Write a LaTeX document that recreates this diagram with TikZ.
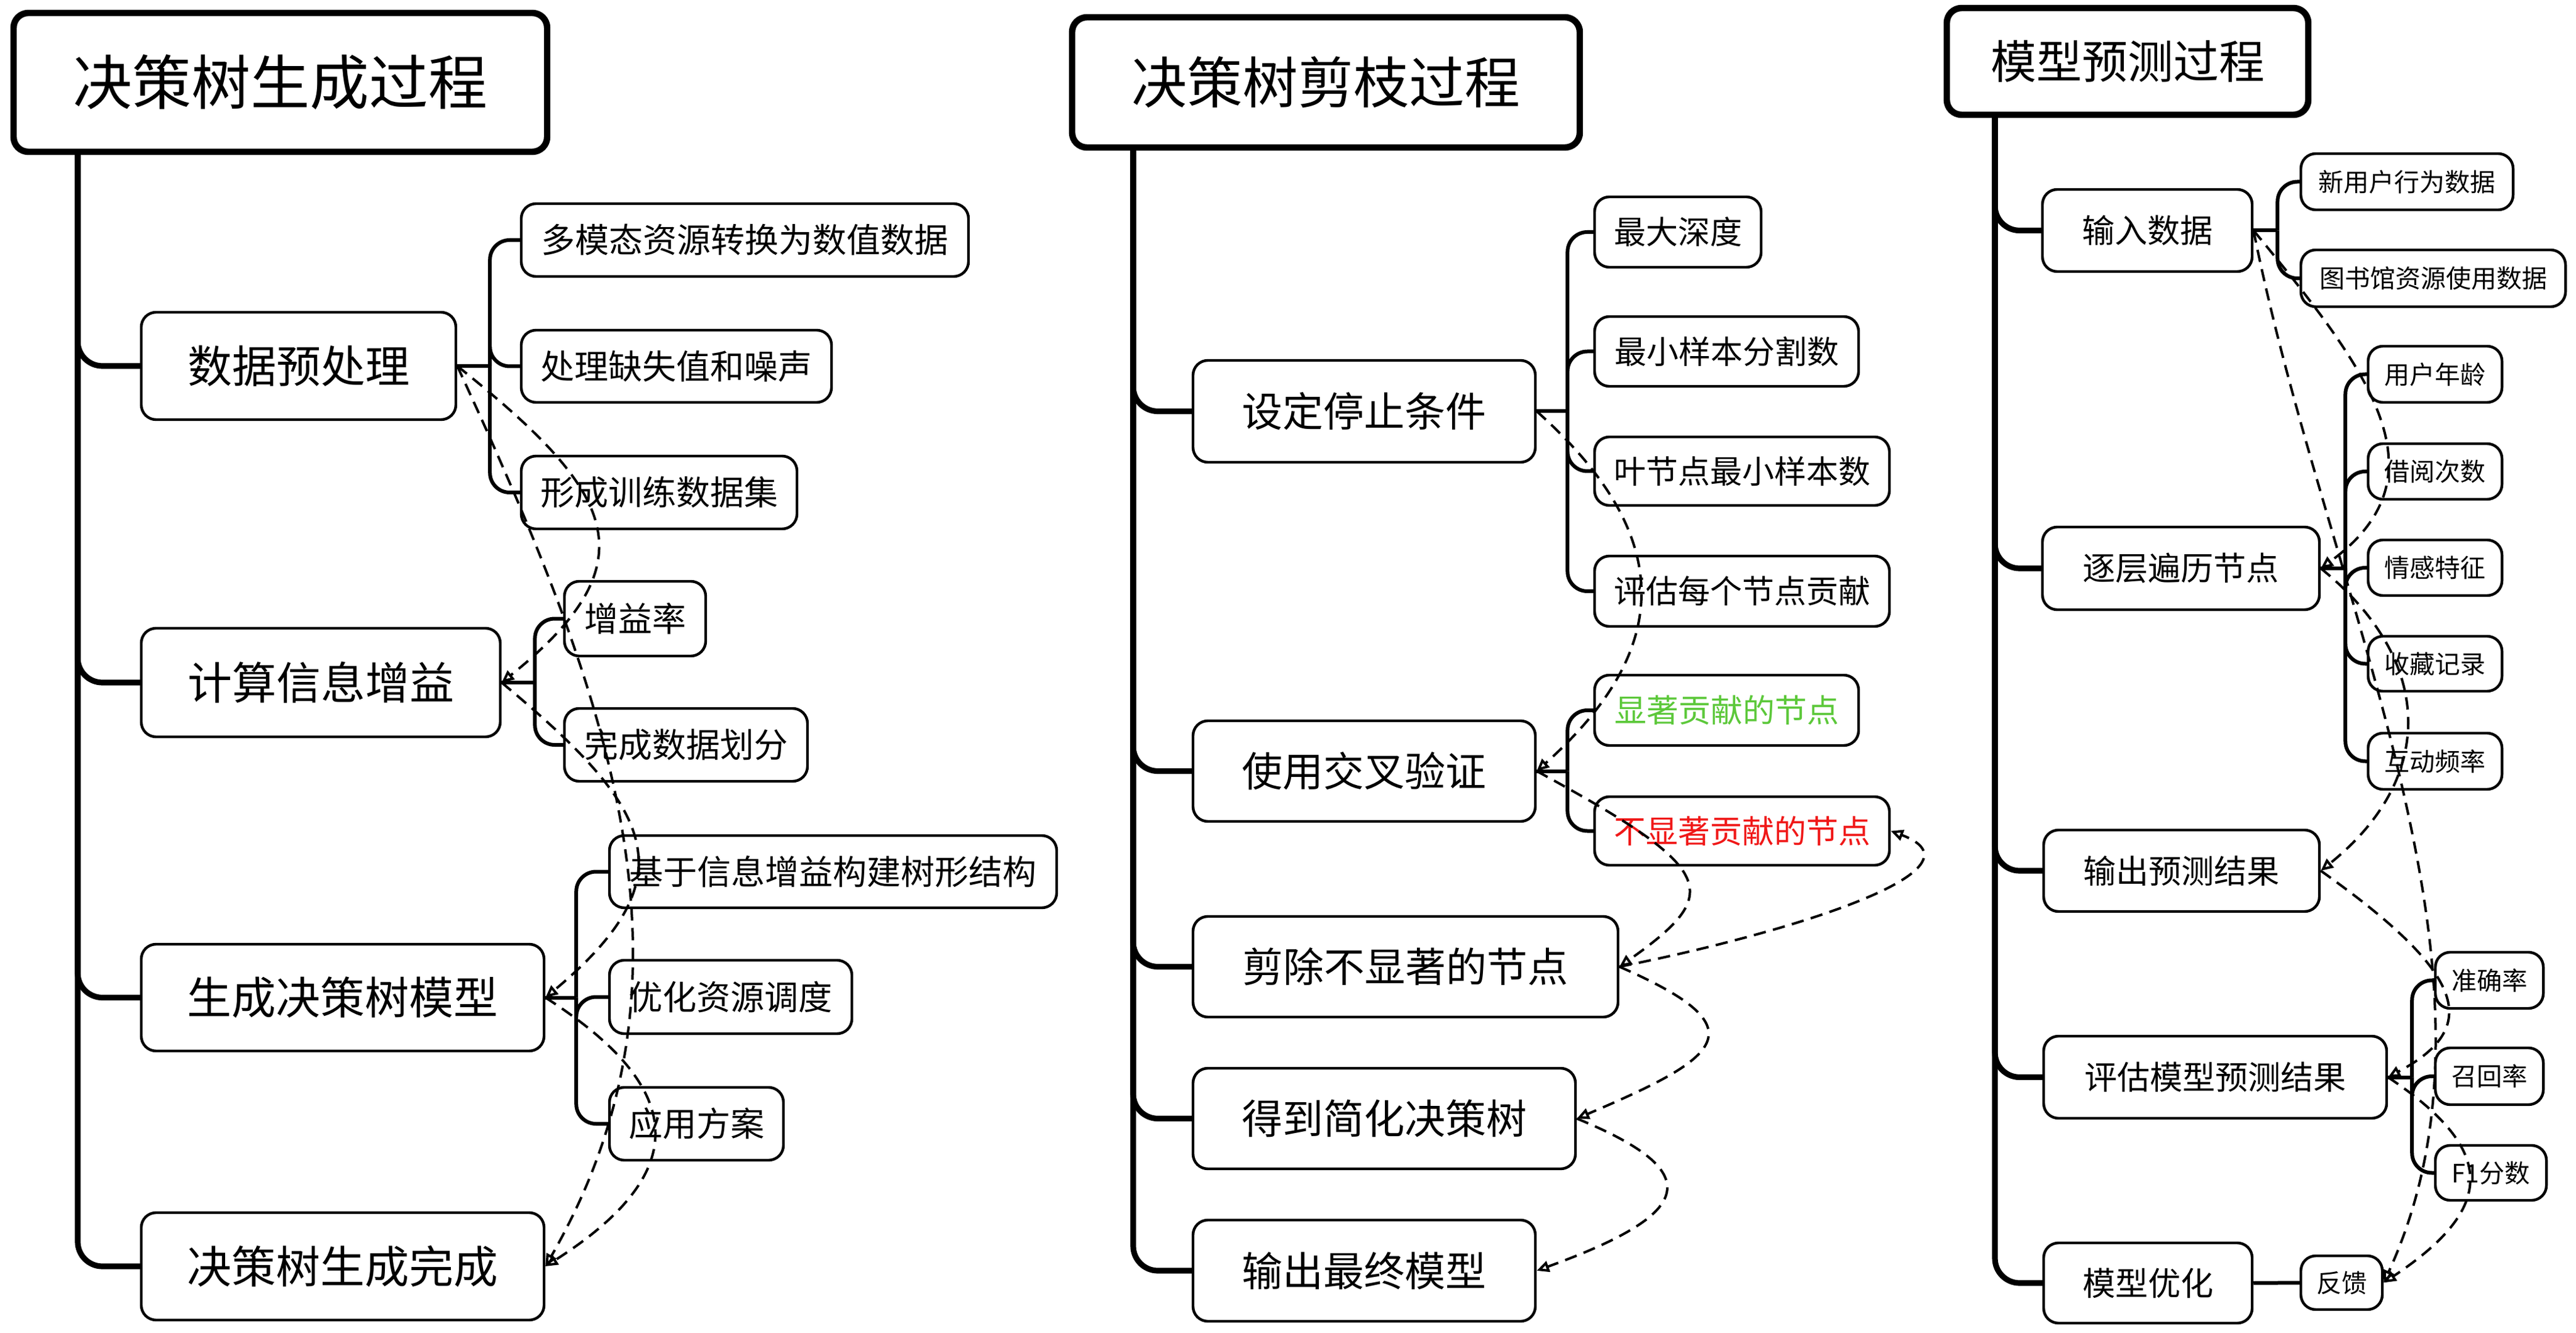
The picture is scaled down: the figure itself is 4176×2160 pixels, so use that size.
\documentclass[tikz,border=0pt]{standalone}
\usepackage{fontspec}
\setmainfont{Noto Sans CJK SC}
\usetikzlibrary{arrows.meta}
\definecolor{sigGreen}{HTML}{5CC83A}
\definecolor{nsRed}{HTML}{F01818}
\tikzset{
  box/.style={draw=black, fill=white, rounded corners=6pt, line width=1.1pt, inner sep=0pt, align=center},
  ttl/.style={box, line width=2.6pt},
  trunk/.style={line width=2.3pt, rounded corners=10pt},
  sub/.style={line width=1.5pt, rounded corners=8pt},
  flow/.style={line width=1pt, dash pattern=on 5pt off 3pt, -{Triangle[open,length=5pt,width=4.5pt]}},
}
\newcommand\mybox[7][]{\node[box,#1,minimum width={(#5-#3)*0.25pt},minimum height={(#6-#4)*0.25pt}] (#2) at ({(#3+#5)/2},{(#4+#6)/2}) {#7};}
\newcommand\fs[1]{\fontsize{#1pt}{#1pt}\selectfont}
\begin{document}
\begin{tikzpicture}[x=0.25pt,y=-0.25pt]
\useasboundingbox (0,0) rectangle (4176,2160);
% ---------------- left column ----------------
\mybox[ttl,font=\fs{24}]{T1}{22}{21}{887}{246}{决策树生成过程}
\mybox[font=\fs{18}]{A1}{229}{506}{739}{680}{数据预处理}
\mybox[font=\fs{13.75}]{A1a}{845}{330}{1570}{448}{多模态资源转换为数值数据}
\mybox[font=\fs{13.75}]{A1b}{845}{535}{1348}{652}{处理缺失值和噪声}
\mybox[font=\fs{13.75}]{A1c}{845}{739}{1292}{857}{形成训练数据集}
\mybox[font=\fs{18}]{A2}{229}{1018}{811}{1194}{计算信息增益}
\mybox[font=\fs{13.75}]{A2a}{915}{942}{1144}{1063}{增益率}
\mybox[font=\fs{13.75}]{A2b}{915}{1148}{1309}{1266}{完成数据划分}
\mybox[font=\fs{18}]{A3}{229}{1530}{882}{1703}{生成决策树模型}
\mybox[font=\fs{13.75}]{A3a}{988}{1354}{1713}{1471}{基于信息增益构建树形结构}
\mybox[font=\fs{13.75}]{A3b}{988}{1556}{1381}{1675}{优化资源调度}
\mybox[font=\fs{13.75}]{A3c}{988}{1762}{1270}{1880}{应用方案}
\mybox[font=\fs{18}]{A4}{229}{1965}{882}{2139}{决策树生成完成}
\coordinate (L0) at (126,246);
\draw[trunk] (L0) |- (A1.west);
\draw[trunk] (L0) |- (A2.west);
\draw[trunk] (L0) |- (A3.west);
\draw[trunk] (L0) |- (A4.west);
\draw[sub] (A1.east) -- ++(53,0) coordinate (A1s);
\draw[sub] (A1s) |- (A1a.west);
\draw[sub] (A1s) |- (A1b.west);
\draw[sub] (A1s) |- (A1c.west);
\draw[sub] (A2.east) -- ++(54,0) coordinate (A2s);
\draw[sub] (A2s) |- (A2a.west);
\draw[sub] (A2s) |- (A2b.west);
\draw[sub] (A3.east) -- ++(50,0) coordinate (A3s);
\draw[sub] (A3s) |- (A3a.west);
\draw[sub] (A3s) |- (A3b.west);
\draw[sub] (A3s) |- (A3c.west);
\draw[flow] (A1.east) .. controls +(250,200) and +(250,-200) .. (A2.east);
\draw[flow] (A1.east) .. controls +(250,540) and +(270,-470) .. (A4.east);
\draw[flow] (A2.east) .. controls +(240,200) and +(240,-200) .. (A3.east);
\draw[flow] (A3.east) .. controls +(235,150) and +(235,-150) .. (A4.east);
% ---------------- middle column ----------------
\mybox[ttl,font=\fs{22.5}]{T2}{1738}{28}{2561}{239}{决策树剪枝过程}
\mybox[font=\fs{16.5}]{B1}{1934}{584}{2489}{749}{设定停止条件}
\mybox[font=\fs{13}]{B1a}{2585}{319}{2855}{433}{最大深度}
\mybox[font=\fs{13}]{B1b}{2585}{513}{3013}{626}{最小样本分割数}
\mybox[font=\fs{13}]{B1c}{2585}{708}{3063}{819}{叶节点最小样本数}
\mybox[font=\fs{13}]{B1d}{2585}{901}{3063}{1015}{评估每个节点贡献}
\mybox[font=\fs{16.5}]{B2}{1934}{1168}{2489}{1331}{使用交叉验证}
\mybox[font=\fs{13},text=sigGreen]{B2a}{2585}{1094}{3013}{1208}{显著贡献的节点}
\mybox[font=\fs{13},text=nsRed]{B2b}{2585}{1291}{3063}{1402}{不显著贡献的节点}
\mybox[font=\fs{16.5}]{B3}{1934}{1485}{2623}{1648}{剪除不显著的节点}
\mybox[font=\fs{16.5}]{B4}{1934}{1731}{2554}{1894}{得到简化决策树}
\mybox[font=\fs{16.5}]{B5}{1934}{1977}{2489}{2141}{输出最终模型}
\coordinate (M0) at (1837,239);
\draw[trunk] (M0) |- (B1.west);
\draw[trunk] (M0) |- (B2.west);
\draw[trunk] (M0) |- (B3.west);
\draw[trunk] (M0) |- (B4.west);
\draw[trunk] (M0) |- (B5.west);
\draw[sub] (B1.east) -- ++(50,0) coordinate (B1s);
\draw[sub] (B1s) |- (B1a.west);
\draw[sub] (B1s) |- (B1b.west);
\draw[sub] (B1s) |- (B1c.west);
\draw[sub] (B1s) |- (B1d.west);
\draw[sub] (B2.east) -- ++(50,0) coordinate (B2s);
\draw[sub] (B2s) |- (B2a.west);
\draw[sub] (B2s) |- (B2b.west);
\draw[flow] (B1.east) .. controls +(224,200) and +(224,-200) .. (B2.east);
\draw[flow] (B2.east) .. controls +(294,160) and +(170,-120) .. (B3.east);
\draw[flow] (B3.east) .. controls +(300,-60) and +(160,60) .. (B2b.east);
\draw[flow] (B3.east) .. controls +(230,100) and +(235,-100) .. (B4.east);
\draw[flow] (B4.east) .. controls +(220,90) and +(248,-90) .. (B5.east);
% ---------------- right column ----------------
\mybox[ttl,font=\fs{18.5}]{T3}{3156}{13}{3742}{186}{模型预测过程}
\mybox[font=\fs{13.25}]{C1}{3311}{307}{3651}{440}{输入数据}
\mybox[font=\fs{10.25}]{C1a}{3730}{249}{4074}{340}{新用户行为数据}
\mybox[font=\fs{10.25}]{C1b}{3730}{405}{4159}{497}{图书馆资源使用数据}
\mybox[font=\fs{13.25}]{C2}{3311}{854}{3760}{988}{逐层遍历节点}
\mybox[font=\fs{10.25}]{C2a}{3839}{561}{4056}{652}{用户年龄}
\mybox[font=\fs{10.25}]{C2b}{3839}{719}{4056}{809}{借阅次数}
\mybox[font=\fs{10.25}]{C2c}{3839}{875}{4056}{965}{情感特征}
\mybox[font=\fs{10.25}]{C2d}{3839}{1031}{4056}{1120}{收藏记录}
\mybox[font=\fs{10.25}]{C2e}{3839}{1188}{4056}{1279}{互动频率}
\mybox[font=\fs{13.25}]{C3}{3313}{1345}{3760}{1477}{输出预测结果}
\mybox[font=\fs{13.25}]{C4}{3313}{1679}{3869}{1812}{评估模型预测结果}
\mybox[font=\fs{10.25}]{C4a}{3948}{1543}{4123}{1634}{准确率}
\mybox[font=\fs{10.25}]{C4b}{3948}{1698}{4123}{1790}{召回率}
\mybox[font=\fs{10.25}]{C4c}{3948}{1856}{4128}{1945}{F1分数}
\mybox[font=\fs{13.25}]{C5}{3313}{2014}{3651}{2144}{模型优化}
\mybox[font=\fs{10.25}]{C5a}{3730}{2035}{3862}{2122}{反馈}
\coordinate (R0) at (3234,186);
\draw[trunk] (R0) |- (C1.west);
\draw[trunk] (R0) |- (C2.west);
\draw[trunk] (R0) |- (C3.west);
\draw[trunk] (R0) |- (C4.west);
\draw[trunk] (R0) |- (C5.west);
\draw[sub] (C1.east) -- ++(39,0) coordinate (C1s);
\draw[sub] (C1s) |- (C1a.west);
\draw[sub] (C1s) |- (C1b.west);
\draw[sub] (C2.east) -- ++(40,0) coordinate (C2s);
\draw[sub] (C2s) |- (C2a.west);
\draw[sub] (C2s) |- (C2b.west);
\draw[sub] (C2s) |- (C2c.west);
\draw[sub] (C2s) |- (C2d.west);
\draw[sub] (C2s) |- (C2e.west);
\draw[sub] (C4.east) -- ++(39,0) coordinate (C4s);
\draw[sub] (C4s) |- (C4a.west);
\draw[sub] (C4s) |- (C4b.west);
\draw[sub] (C4s) |- (C4c.west);
\draw[sub] (C5.east) -- (C5a.west);
\draw[flow] (C1.east) .. controls +(190,230) and +(206,-150) .. (C2.east);
\draw[flow] (C1.east) .. controls +(120,600) and +(230,-500) .. (C5a.east);
\draw[flow] (C2.east) .. controls +(186,150) and +(187,-150) .. (C3.east);
\draw[flow] (C3.east) .. controls +(240,170) and +(150,-80) .. (C4.east);
\draw[flow] (C4.east) .. controls +(180,120) and +(180,-120) .. (C5a.east);
\end{tikzpicture}
\end{document}
